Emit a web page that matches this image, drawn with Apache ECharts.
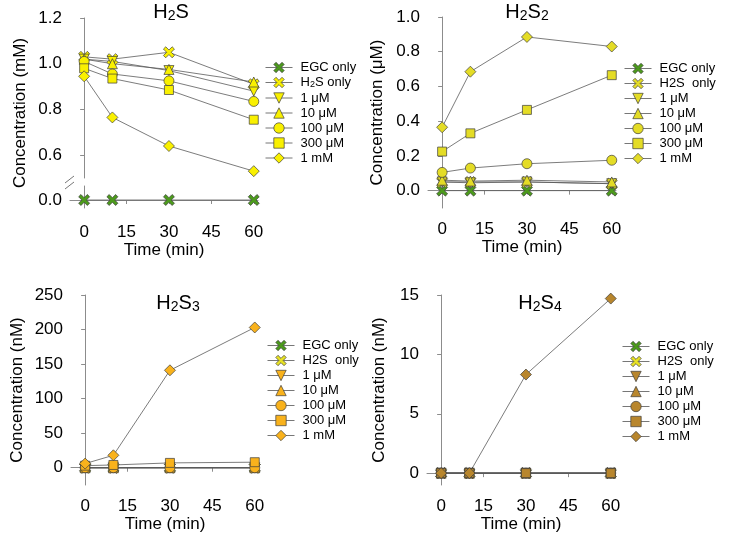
<!DOCTYPE html>
<html>
<head>
<meta charset="utf-8">
<script src="https://cdn.jsdelivr.net/npm/echarts@6/dist/echarts.min.js"></script>
<style>
  html, body { margin: 0; padding: 0; background: #fff; }
  #chart { width: 731px; height: 539px; }
</style>
</head>
<body>
<div id="chart"></div>
<script>
// time points (min)
const times = [0, 10, 30, 60]
const seriesNames = ['EGC only', 'H2S  only', '1 μM', '10 μM', '100 μM', '300 μM', '1 mM']
const xTicks = [0, 15, 30, 45, 60]

// rows follow seriesNames order
const h2sRows = [
  [0, 0, 0, 0],
  [1.03, 1.02, 1.05, 0.91],
  [1.02, 1.01, 0.97, 0.88],
  [1.02, 1.0, 0.975, 0.92],
  [1.01, 0.955, 0.925, 0.835],
  [0.98, 0.935, 0.885, 0.755],
  [0.945, 0.765, 0.64, 0.53]
]
const h2s2Rows = [
  [0, 0, 0, 0],
  [0.05, 0.05, 0.05, 0.04],
  [0.05, 0.045, 0.05, 0.04],
  [0.06, 0.055, 0.06, 0.05],
  [0.105, 0.13, 0.155, 0.175],
  [0.225, 0.33, 0.465, 0.665],
  [0.365, 0.685, 0.885, 0.83]
]
const h2s3Rows = [
  [0, 0, 0, 0],
  [0, 0, 0, 0],
  [0, 0, 0, 0],
  [0, 0, 0, 0],
  [0, 0, 0, 0],
  [3, 4, 7, 8],
  [6, 18, 141, 203]
]
const h2s4Rows = [
  [0, 0, 0, 0],
  [0, 0, 0, 0],
  [0, 0, 0, 0],
  [0, 0, 0, 0],
  [0, 0, 0, 0],
  [0, 0, 0, 0],
  [0, 0, 8.3, 14.7]
]

const h2sTicks = [0.6, 0.8, 1.0, 1.2]
const h2s2Ticks = [0, 0.2, 0.4, 0.6, 0.8, 1.0]
const h2s3Ticks = [0, 50, 100, 150, 200, 250]
const h2s4Ticks = [0, 5, 10, 15]

const FONT = 'Liberation Sans, Arial, sans-serif'
const crossPath = 'path://M0,2.5 L2.5,0 L6,3.5 L9.5,0 L12,2.5 L8.5,6 L12,9.5 L9.5,12 L6,8.5 L2.5,12 L0,9.5 L3.5,6 Z'
const symbols = [crossPath, crossPath, 'triangle', 'triangle', 'circle', 'rect', 'diamond']
const rotations = [0, 0, 180, 0, 0, 0, 0]
const sizes = [11, 11, 10, 10, 10, 9, 11]
const panelColors = ['#f9f000', '#e4dc26', '#f9b21c', '#b8862d']
const egcColor = '#4c9a1c'
const h2sOnlyColor = ['#f9f000', '#e4dc26', '#e8e224', '#e8e224']

const chart = echarts.init(document.getElementById('chart'))

// panel grids: 0 = H2S upper, 1 = H2S lower (break), 2 = H2S2, 3 = H2S3, 4 = H2S4
const grids = [
  { left: 70, top: 18, width: 188, height: 160 },
  { left: 70, top: 186, width: 188, height: 22 },
  { left: 428, top: 17, width: 188, height: 191 },
  { left: 71, top: 295, width: 188, height: 190 },
  { left: 427, top: 295, width: 188, height: 190 }
]

const xAxes = grids.map((g, i) => ({
  type: 'value',
  gridIndex: i,
  min: -5,
  max: 61.5,
  show: i !== 0,
  axisLine: { lineStyle: { color: '#8c8c8c', width: 1 } },
  axisTick: { show: true, length: 4, lineStyle: { color: '#8c8c8c' }, customValues: xTicks },
  axisLabel: { customValues: xTicks, fontSize: 17, color: '#000', fontFamily: FONT, margin: i === 1 ? 16 : 13 },
  splitLine: { show: false },
  name: 'Time (min)',
  nameLocation: 'middle',
  nameGap: i === 1 ? 31 : 30,
  nameTextStyle: { fontSize: 17, color: '#000', fontFamily: FONT }
}))

function yAxis(gridIndex, min, max, ticks, fmt, name) {
  return {
    type: 'value',
    gridIndex: gridIndex,
    min: min,
    max: max,
    axisLine: { show: true, lineStyle: { color: '#8c8c8c', width: 1 } },
    axisTick: { show: true, length: 4, lineStyle: { color: '#8c8c8c' }, customValues: ticks },
    axisLabel: { customValues: ticks, fontSize: 17, color: '#000', fontFamily: FONT, margin: 8, formatter: fmt },
    splitLine: { show: false },
    name: name,
    nameLocation: 'middle',
    nameGap: 42,
    nameTextStyle: { fontSize: 17, color: '#000', fontFamily: FONT }
  }
}

const fix1 = v => v.toFixed(1)
const int0 = v => Math.round(v).toString()

const yAxes = [
  yAxis(0, 0.5, 1.2, h2sTicks, fix1, ''),
  yAxis(1, -0.04, 0.07, [0], fix1, ''),
  yAxis(2, -0.1, 1.0, h2s2Ticks, fix1, 'Concentration (μM)'),
  yAxis(3, -25, 250, h2s3Ticks, int0, 'Concentration (nM)'),
  yAxis(4, -1, 15, h2s4Ticks, int0, 'Concentration (nM)')
]
yAxes[3].nameGap = 45
yAxes[4].nameGap = 39

const panels = [
  { rows: h2sRows, axis: 0 },
  { rows: h2s2Rows, axis: 2 },
  { rows: h2s3Rows, axis: 3 },
  { rows: h2s4Rows, axis: 4 }
]

// zero-width spaces keep legend names unique per panel
const tag = (name, p) => name + '\u200B'.repeat(p + 1)

const series = []
panels.forEach((panel, p) => {
  panel.rows.forEach((row, k) => {
    let axisIdx = panel.axis
    if (p === 0 && k === 0) axisIdx = 1
    let fill = panelColors[p]
    if (k === 0) fill = egcColor
    if (k === 1) fill = h2sOnlyColor[p]
    series.push({
      type: 'line',
      name: tag(seriesNames[k], p),
      xAxisIndex: axisIdx,
      yAxisIndex: axisIdx,
      data: times.map((t, j) => [t, row[j]]),
      symbol: symbols[k],
      symbolRotate: rotations[k],
      symbolSize: sizes[k],
      symbolKeepAspect: true,
      showAllSymbol: true,
      itemStyle: { color: fill, borderColor: '#3c3c3c', borderWidth: 0.7 },
      lineStyle: { color: '#5a5a5a', width: 0.8 },
      emphasis: { disabled: true },
      animation: false
    })
  })
})

const legendPos = [[265, 61], [624, 62], [267, 339], [622, 340]]
const legends = legendPos.map((pos, p) => ({
  orient: 'vertical',
  left: pos[0],
  top: pos[1],
  padding: 0,
  itemWidth: 27,
  itemHeight: 13,
  itemGap: 2,
  selectedMode: false,
  data: seriesNames.map(n => tag(n, p)),
  itemStyle: { borderWidth: 0.7, borderColor: '#3c3c3c' },
  lineStyle: { width: 1, color: '#777' },
  formatter: name => {
    const clean = name.replace(/\u200B/g, '')
    if (p === 0 && clean.indexOf('H2S') === 0) return '{n|H}{s|2}{n|S only}'
    return clean
  },
  textStyle: {
    fontSize: 13,
    color: '#000',
    fontFamily: FONT,
    padding: [0, 0, 0, 3],
    rich: {
      n: { fontSize: 13, color: '#000', fontFamily: FONT },
      s: { fontSize: 9, color: '#000', fontFamily: FONT, padding: [5, 0, 0, 0] }
    }
  }
}))

const titleRich = {
  a: { fontSize: 20, fill: '#000', fontFamily: FONT },
  b: { fontSize: 14, fill: '#000', fontFamily: FONT, padding: [9, 0, 0, 0] }
}
function titleText(x, y, sub) {
  return {
    type: 'text',
    x: x,
    y: y,
    style: {
      text: '{a|H}{b|2}{a|S}' + (sub ? '{b|' + sub + '}' : ''),
      rich: titleRich,
      textAlign: 'center',
      textVerticalAlign: 'middle'
    }
  }
}

chart.setOption({
  animation: false,
  grid: grids,
  xAxis: xAxes,
  yAxis: yAxes,
  legend: legends,
  series: series,
  graphic: [
    titleText(171, 12, ''),
    titleText(527, 12, '2'),
    titleText(178, 303, '3'),
    titleText(540, 303, '4'),
    {
      type: 'text',
      x: 20,
      y: 113,
      rotation: Math.PI / 2,
      style: {
        text: 'Concentration (mM)',
        font: '17px ' + FONT,
        fill: '#000',
        textAlign: 'center',
        textVerticalAlign: 'middle'
      }
    },
    // axis break marks
    { type: 'line', shape: { x1: 65, y1: 183, x2: 74, y2: 176 }, style: { stroke: '#777', lineWidth: 1 } },
    { type: 'line', shape: { x1: 65, y1: 189, x2: 74, y2: 182 }, style: { stroke: '#777', lineWidth: 1 } }
  ]
})
</script>
</body>
</html>
